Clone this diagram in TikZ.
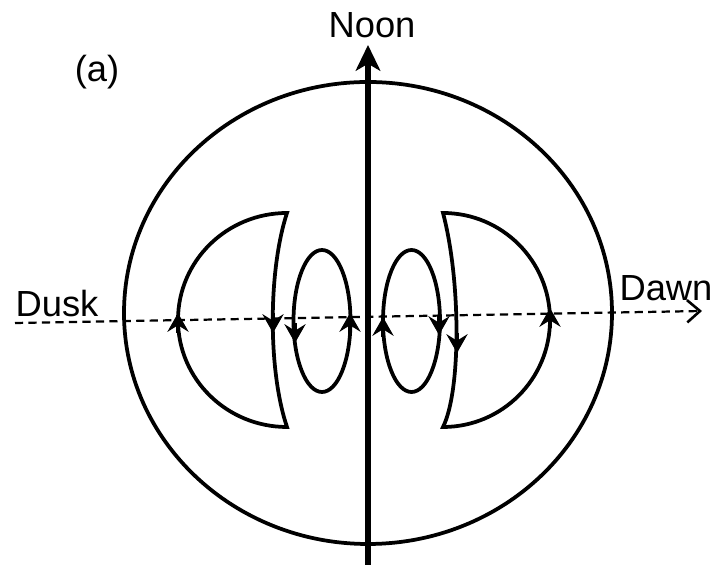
\documentclass[tikz,border=0pt]{standalone}
\usepackage{fontspec}
\setmainfont{Liberation Sans}
\usetikzlibrary{arrows.meta}

\begin{document}
\begin{tikzpicture}[x=0.03cm,y=0.03cm,
    loop/.style={line width=3.2pt},
    tip/.style={line width=3.2pt,-{Stealth[length=16pt,width=18pt,inset=5.5pt]}},
    lab/.style={font=\fontsize{31}{36}\selectfont}]
    \useasboundingbox (0,0) rectangle (719,571);

    % kör
    \draw[loop] (368,258) ellipse [x radius=244,y radius=231];

    % tengelyek
    \coordinate (duskend) at (15,248);
    \coordinate (dawnend) at (702,260);
    \draw[line width=1.9pt,dash pattern=on 7pt off 4.5pt,
          -{Straight Barb[length=11pt,width=19pt,line width=2.2pt]}] (duskend) -- (dawnend);
    \coordinate (south) at (368,6);
    \coordinate (north) at (368,526);
    \draw[line width=5.2pt,-{Stealth[length=22pt,width=21pt,inset=6pt]}] (south) -- (north);

    % feliratok
    \node[lab] (noon) at (372,546) {Noon};
    \node[lab] (dusk) at (57,267) {Dusk};
    \node[lab] (dawn) at (666,283) {Dawn};
    \node[lab] (panel) at (97,499) {(a)};

    % hurkok
    \draw[loop] (287,358) arc [start angle=90,end angle=270,x radius=109,y radius=107]
        .. controls (268,200) and (268,300) .. cycle;
    \draw[loop] (443,358) arc [start angle=90,end angle=-90,x radius=107,y radius=107]
        .. controls (461,180) and (461,290) .. cycle;
    \draw[loop] (322,250) ellipse [x radius=28.5,y radius=71];
    \draw[loop] (411.5,250) ellipse [x radius=28.5,y radius=71];

    % nyilak
    \foreach \x/\y/\d in {178/258/1, 273/238/-1, 295/228/-1, 350/258/1,
                          383/254/1, 439/236/-1, 457/218/-1, 550/263/1}
        \draw[tip] (\x,{\y-20*\d}) -- (\x,\y);
\end{tikzpicture}
\end{document}
